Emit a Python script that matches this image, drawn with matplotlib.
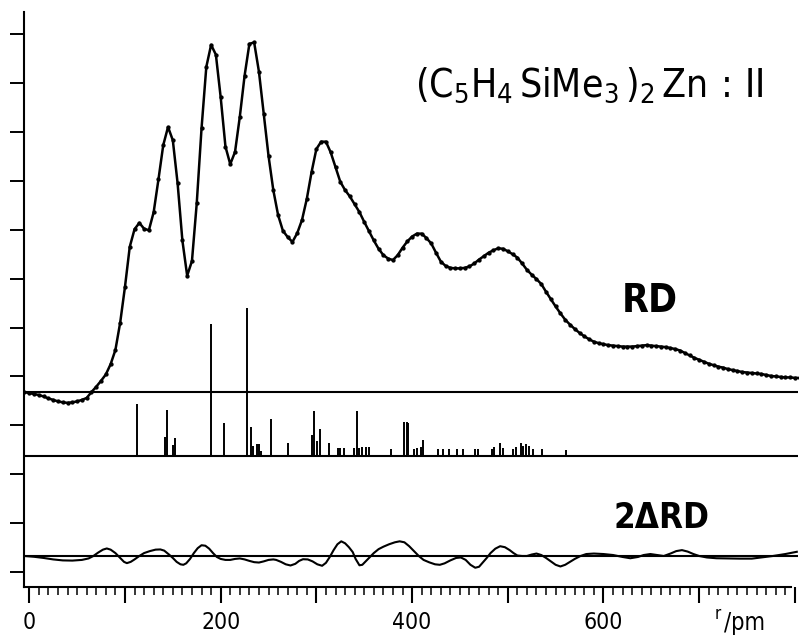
import matplotlib
matplotlib.use('Agg')
import matplotlib.pyplot as plt
from matplotlib.ticker import MultipleLocator, FuncFormatter

# ---------------- data ----------------
# RD curve (theory line with experimental dots), 5 pm grid, units: 50 per y-tick
rd_r = list(range(-5, 806, 5))
rd_vals = [
    0, -1, -2, -3, -4.5, -6.5, -8, -9.5, -10.5, -11,
    -10.5, -9.5, -8, -6, 0, 5.5, 11.5, 18, 28.5, 43,
    71, 107.5, 148.5, 166.5, 173, 167, 165.5, 184, 217.5, 252.5,
    271, 257.5, 213.5, 155, 119, 134, 193, 269.5, 332.5, 355,
    345, 301.5, 251, 233, 245.5, 281.5, 323.5, 356, 357.5, 327.5,
    284, 241.5, 206.5, 181, 165, 158.5, 153.5, 162.5, 176, 197.5,
    225, 248.5, 256, 256, 245, 230, 215, 206.5, 200, 192,
    184, 174, 164.5, 155, 146.5, 140, 136.5, 135, 140, 147.5,
    154, 159, 162, 162, 157.5, 152, 142.5, 133.5, 129, 127,
    126.5, 126.5, 127, 128.5, 131.5, 135.5, 139, 142.5, 145, 147,
    146.5, 144, 141, 137.5, 131.5, 125, 120, 115.5, 110.5, 102.5,
    95, 87.5, 80.5, 74, 69, 64.5, 60.5, 57, 54, 51.5,
    50, 49, 48, 47.5, 47, 46.5, 46.5, 46.5, 47, 47.5,
    48, 47.5, 47, 46.5, 46, 45, 44, 42.5, 40, 37.5,
    35, 33, 31, 29, 27.5, 26, 25, 23.5, 22.5, 21.5,
    20.5, 20, 19.5, 19, 18.5, 17.5, 16.5, 16, 15.5, 15,
    15, 14.5, 14.5,
]

# distance sticks
stick_r = [112.3, 141.8, 143.9, 149.8, 152.6, 189.6, 203.5, 227.2, 231.3, 233.4,
           237.6, 240.0, 242.4, 252.9, 270.3, 295.4, 297.5, 300.3, 303.8, 313.2,
           322.6, 325.0, 329.0, 339.3, 342.4, 344.8, 347.7, 351.8, 355.3, 377.6,
           391.8, 394.4, 396.0, 402.3, 405.5, 409.0, 411.7, 427.4, 432.6, 439.0,
           446.6, 453.5, 465.7, 468.5, 483.0, 485.9, 491.8, 494.6, 505.0, 508.6,
           513.8, 516.3, 519.0, 522.4, 526.6, 535.4, 560.8]
stick_h = [53, 19, 47, 11, 18, 135, 34, 151, 30, 10,
           12, 12, 5, 38, 13, 22, 46, 15, 28, 13,
           8, 8, 8, 8, 46, 8, 9, 9, 9, 7,
           35, 35, 34, 7, 8, 9, 16, 7, 7, 7,
           7, 7, 7, 7, 7, 9, 13, 8, 7, 9,
           13, 10, 12, 10, 7, 7, 6]

# 2*Delta RD difference curve
d_r = [-5, 5, 15, 25, 35, 45, 55, 62, 67, 72,
       77, 81, 85, 90, 95, 99, 102, 106, 110, 115,
       120, 126, 132, 137, 141, 146, 150, 154, 158, 161,
       164, 168, 172, 176, 180, 184, 188, 192, 196, 200,
       205, 210, 215, 220, 225, 230, 235, 240, 245, 250,
       255, 258, 263, 268, 273, 278, 282, 286, 291, 296,
       301, 306, 310, 314, 318, 322, 326, 330, 334, 338,
       341, 345, 348, 352, 356, 360, 365, 370, 376, 382,
       387, 392, 397, 402, 407, 412, 418, 424, 429, 434,
       440, 446, 451, 456, 461, 466, 470, 474, 478, 482,
       487, 492, 497, 502, 506, 510, 515, 520, 525, 530,
       535, 540, 545, 550, 555, 560, 565, 570, 576, 582,
       590, 600, 610, 620, 628, 636, 642, 649, 656, 663,
       670, 676, 682, 688, 694, 700, 708, 718, 730, 742,
       755, 765, 777, 790, 802]
d_vals = [0, -0.8, -2, -3.5, -4.5, -4.7, -4, -2.5, 0, 3.5,
          6.5, 7.7, 6.5, 3, -2, -6, -7.3, -6, -3.5, 0,
          3, 5, 6.5, 6.7, 5.5, 1.5, -2, -6, -8.5, -9,
          -7.5, -3, 3, 8, 11, 10.5, 7.5, 3, -1, -3,
          -4, -4, -3, -2.5, -3.5, -5, -6.3, -6.7, -5.5, -4,
          -3.5, -4, -6, -8.5, -9.7, -8, -5, -3.3, -3.5, -5.5,
          -8.5, -10, -7, -1, 6, 12, 15, 13, 9, 4,
          -3, -9.5, -9, -5, -1, 3, 7, 9.5, 12, 14,
          15, 14, 10, 5, 0, -4, -6.5, -8.5, -9, -7.5,
          -4.5, -2, -1.5, -4, -9, -12, -11, -6.5, -2, 3,
          7.5, 10, 9, 6, 3, 0.5, 0, 0, 1.5, 2.5,
          1, -2, -5.5, -9, -10.7, -9, -6, -3, 0, 2,
          2.5, 2, 1, -1, -2.3, -1, 1, 2, 1, 0,
          2.5, 5, 6, 4.5, 2, 0, -1.5, -2.3, -2.5, -2.7,
          -2.7, -1.5, 0, 2, 4.3]

x_labels = {0: '0', 200: '200', 400: '400', 600: '600'}
title = r'$\mathregular{(C_5H_4\,SiMe_3\,)_2\,Zn\,:\,II}$'

# ---------------- layout ----------------
W, H = 799, 638
RD_BASE, STICK_BASE, D_BASE = 184.0, 118.6, 16.4

plt.rcParams['font.family'] = ['DejaVu Sans']
plt.rcParams['font.stretch'] = 'condensed'
fig = plt.figure(figsize=(W / 100, H / 100), dpi=100)
ax = fig.add_axes([24 / W, (H - 587) / H, (W - 24) / W, (587 - 12) / H])
ax.set_xlim(-5.5, 804.3)
ax.set_ylim(-15.3, 572.6)

for s in ('top', 'right'):
    ax.spines[s].set_visible(False)
ax.spines['left'].set_linewidth(1.5)
ax.spines['bottom'].set_linewidth(1.5)
ax.spines['bottom'].set_bounds(-5.5, 796)

# baselines
for b in (RD_BASE, STICK_BASE, D_BASE):
    ax.hlines(b, -5.5, 803, colors='black', lw=1.5)

# RD curve with dots
ax.plot(rd_r, [RD_BASE + v for v in rd_vals], color='black', lw=1.8,
        marker='o', ms=2.1, mfc='black', mec='black', solid_joinstyle='round')

# sticks
ax.vlines(stick_r, STICK_BASE, [STICK_BASE + h for h in stick_h],
          colors='black', lw=1.4)

# difference curve
ax.plot(d_r, [D_BASE + v for v in d_vals], color='black', lw=1.5,
        solid_joinstyle='round')

# ticks
ax.xaxis.set_major_locator(MultipleLocator(100))
ax.xaxis.set_minor_locator(MultipleLocator(10))
ax.xaxis.set_major_formatter(FuncFormatter(lambda v, p: x_labels.get(int(round(v)), '')))
ax.tick_params(axis='x', which='major', direction='out', length=11.5, width=1.5,
               pad=6, labelsize=16.5)
ax.tick_params(axis='x', which='minor', direction='out', length=5.5, width=1.1)
ax.set_yticks(list(range(0, 551, 50)))
ax.set_yticklabels([])
ax.tick_params(axis='y', which='major', direction='out', length=10, width=1.4)

# texts
fig.text(415 / W, 1 - 97 / H, title, fontsize=28, ha='left', va='baseline')
fig.text(622 / W, 1 - 312 / H, 'RD', fontsize=28, ha='left', va='baseline',
         fontweight='bold')
fig.text(613 / W, 1 - 528 / H, '2\u0394RD', fontsize=25, ha='left', va='baseline',
         fontweight='bold')
fig.text(715 / W, 1 - 619 / H, 'r', fontsize=12, ha='left', va='baseline')
fig.text(724 / W, 1 - 630 / H, '/pm', fontsize=17, ha='left', va='baseline')

fig.savefig('out.png', dpi=100)
